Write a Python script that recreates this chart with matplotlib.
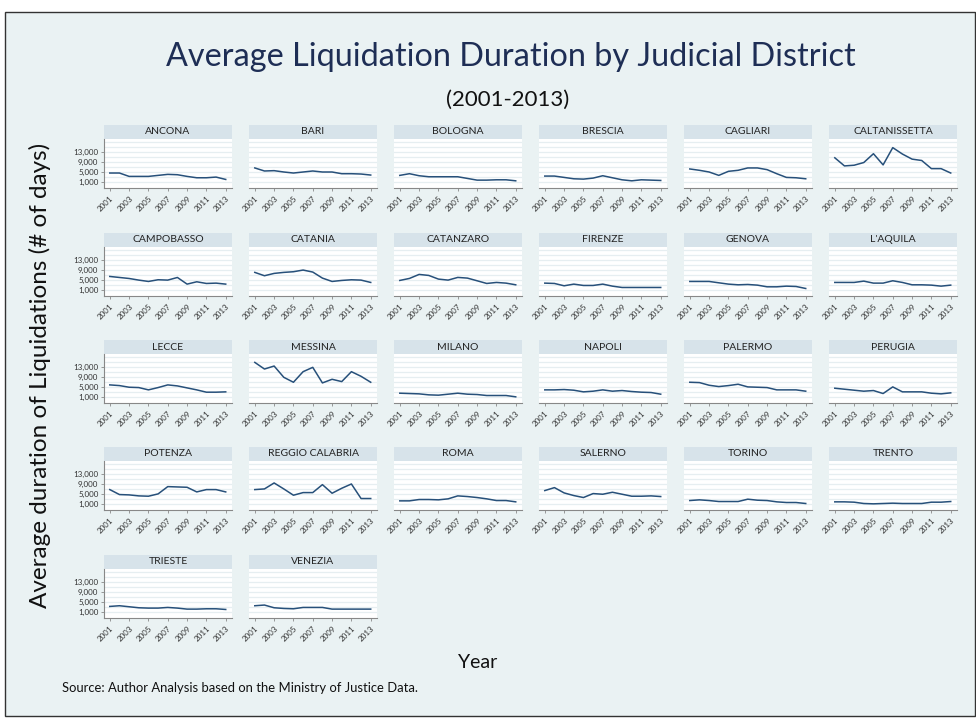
import matplotlib
matplotlib.use("Agg")
import matplotlib.pyplot as plt
from matplotlib.patches import Rectangle

years = list(range(2001, 2014))

districts = [
    "ANCONA", "BARI", "BOLOGNA", "BRESCIA", "CAGLIARI", "CALTANISSETTA",
    "CAMPOBASSO", "CATANIA", "CATANZARO", "FIRENZE", "GENOVA", "L'AQUILA",
    "LECCE", "MESSINA", "MILANO", "NAPOLI", "PALERMO", "PERUGIA",
    "POTENZA", "REGGIO CALABRIA", "ROMA", "SALERNO", "TORINO", "TRENTO",
    "TRIESTE", "VENEZIA",
]

ancona = [4600, 4600, 3270, 3270, 3270, 3670, 4070, 3930, 3270, 2730, 2730, 3000, 2070]
bari = [6600, 5400, 5530, 5000, 4600, 5000, 5400, 5000, 5000, 4330, 4330, 4200, 3800]
bologna = [3670, 4330, 3530, 3130, 3130, 3130, 3130, 2470, 1800, 1800, 1930, 1930, 1530]
brescia = [3400, 3400, 2870, 2330, 2200, 2600, 3530, 2730, 1930, 1530, 1930, 1800, 1670]
cagliari = [6200, 5670, 5000, 3670, 5270, 5670, 6600, 6600, 5930, 4330, 2870, 2730, 2330]
caltanissetta = [10600, 7400, 7670, 8730, 12200, 7800, 14600, 12070, 10070, 9530, 6330, 6330, 4600]
campobasso = [6400, 6000, 5600, 4960, 4430, 5100, 4960, 6000, 3380, 4300, 3640, 3770, 3380]
catania = [8000, 6680, 7600, 8000, 8260, 8920, 8130, 5750, 4430, 4830, 5090, 4960, 4040]
catanzaro = [4830, 5620, 7200, 6800, 5360, 4960, 6020, 5750, 4700, 3640, 4040, 3770, 3110]
firenze = [3770, 3640, 2720, 3380, 2850, 2850, 3380, 2580, 2060, 2060, 2060, 2060, 2060]
genova = [4430, 4430, 4430, 3900, 3380, 3110, 3240, 2980, 2320, 2320, 2580, 2450, 1660]
laquila = [4040, 4040, 4040, 4560, 3770, 3770, 4700, 4040, 3110, 3110, 2980, 2580, 2980]
lecce = [5830, 5560, 4910, 4780, 3870, 4780, 5830, 5430, 4650, 3870, 2960, 2960, 3090]
messina = [14700, 12080, 13260, 8820, 6870, 11040, 12740, 6610, 8040, 7130, 11040, 9210, 6870]
milano = [2560, 2430, 2300, 1910, 1780, 2170, 2560, 2170, 2040, 1650, 1650, 1650, 1130]
napoli = [3870, 3870, 4000, 3740, 3090, 3350, 3870, 3350, 3610, 3220, 2960, 2830, 2170]
palermo = [6870, 6740, 5690, 5170, 5560, 6090, 5040, 4910, 4780, 3870, 3870, 3870, 3350]
perugia = [4520, 4130, 3740, 3350, 3610, 2430, 5040, 3090, 3090, 3090, 2560, 2300, 2700]
potenza = [6740, 4780, 4650, 4260, 4130, 5040, 7910, 7780, 7650, 5820, 6740, 6740, 5820]
reggio_calabria = [6740, 7000, 9350, 7000, 4520, 5560, 5560, 8690, 5300, 7260, 8950, 3220, 3220]
roma = [2300, 2300, 2830, 2830, 2700, 3090, 4260, 4000, 3610, 3090, 2430, 2430, 1910]
salerno = [6350, 7520, 5430, 4390, 3610, 5170, 4910, 5690, 4910, 4130, 4130, 4260, 4000]
torino = [2430, 2700, 2430, 2040, 2040, 2040, 2960, 2560, 2430, 1910, 1650, 1650, 1260]
trento = [1910, 1910, 1780, 1260, 1130, 1260, 1390, 1260, 1260, 1260, 1780, 1780, 2040]
trieste = [3260, 3530, 3130, 2730, 2600, 2600, 2860, 2600, 2200, 2200, 2330, 2330, 2060]
venezia = [3530, 3800, 2730, 2460, 2330, 2860, 2860, 2860, 2200, 2200, 2200, 2200, 2200]

series = [
    ancona, bari, bologna, brescia, cagliari, caltanissetta,
    campobasso, catania, catanzaro, firenze, genova, laquila,
    lecce, messina, milano, napoli, palermo, perugia,
    potenza, reggio_calabria, roma, salerno, torino, trento,
    trieste, venezia,
]

ytick_vals = [1000, 5000, 9000, 13000]
ytick_labels = ["1,000", "5,000", "9,000", "13,000"]
grid_vals = list(range(1000, 18000, 2000))
xtick_vals = list(range(2001, 2014, 2))

W, H = 976, 719
plt.rcParams["font.family"] = ["Lato", "DejaVu Sans"]

fig = plt.figure(figsize=(W / 100, H / 100), dpi=100)
fig.patch.set_facecolor("white")

# outer graph region box, kept behind the panels
fig.patches.append(Rectangle((5 / W, 1 - 716 / H), 970 / W, 704 / H,
                             transform=fig.transFigure, facecolor="#eaf2f3",
                             edgecolor="#333333", linewidth=1.0, zorder=-5))

navy = "#27507a"
col_left = [104, 249, 394, 539, 684, 829]
row_top = [139, 247, 354, 461, 569]
pw, ph, strip_h = 128, 49, 14

for i, (name, vals) in enumerate(zip(districts, series)):
    r, c = divmod(i, 6)
    x0 = col_left[c]
    y0 = row_top[r]
    ax = fig.add_axes([x0 / W, 1 - (y0 + ph) / H, pw / W, ph / H])
    ax.set_facecolor("white")
    for g in grid_vals:
        ax.axhline(g, color="#e6eef1", linewidth=0.9, zorder=1)
    ax.plot(years, vals, color=navy, linewidth=1.1, zorder=3)
    ax.set_xlim(2000.4, 2013.65)
    ax.set_ylim(-1300, 18000)

    ax.set_xticks(xtick_vals)
    ax.set_xticklabels([str(y) for y in xtick_vals], rotation=45,
                       fontsize=5.8, color="#333333", ha="right", va="top",
                       rotation_mode="anchor")
    ax.tick_params(axis="x", length=2.5, width=0.6, color="#888888", pad=2)

    for s in ["top", "right"]:
        ax.spines[s].set_visible(False)
    ax.spines["bottom"].set_color("#888888")
    ax.spines["bottom"].set_linewidth(0.8)
    if c == 0:
        ax.set_yticks(ytick_vals)
        ax.set_yticklabels(ytick_labels, fontsize=5.8, color="#333333")
        ax.tick_params(axis="y", length=2.5, width=0.6, color="#888888", pad=1.5)
        ax.spines["left"].set_color("#888888")
        ax.spines["left"].set_linewidth(0.8)
    else:
        ax.set_yticks([])
        ax.spines["left"].set_visible(False)

    # strip title
    ax.add_patch(Rectangle((0, 1), 1, strip_h / ph, transform=ax.transAxes,
                           facecolor="#d7e3ea", edgecolor="none", clip_on=False))
    ax.text(0.5, 1 + strip_h / ph / 2, name, transform=ax.transAxes,
            ha="center", va="center", fontsize=7.5, color="#222222")

fig.text(511 / W, 1 - 57 / H, "Average Liquidation Duration by Judicial District",
         ha="center", va="center", fontsize=23.3, color="#1e2e55")
fig.text(508 / W, 1 - 100 / H, "(2001-2013)", ha="center", va="center",
         fontsize=16, color="#111111")
fig.text(40 / W, 1 - 375 / H, "Average duration of Liquidations (# of days)",
         ha="center", va="center", rotation=90, fontsize=17.5, color="#111111")
fig.text(478 / W, 1 - 662 / H, "Year", ha="center", va="center",
         fontsize=14, color="#111111")
fig.text(62 / W, 1 - 688 / H, "Source: Author Analysis based on the Ministry of Justice Data.",
         ha="left", va="center", fontsize=9.4, color="#111111")

fig.savefig("out.png", dpi=100)
